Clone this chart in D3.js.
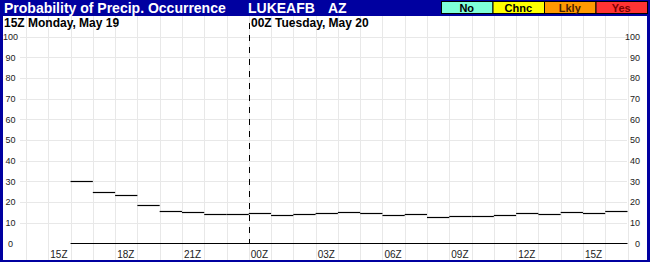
<!DOCTYPE html>
<html>
<head>
<meta charset="utf-8">
<script src="https://cdn.jsdelivr.net/npm/d3@7/dist/d3.min.js"></script>
<style>
  body { margin: 0; background: #fff; }
  svg { display: block; font-family: Arial, "Liberation Sans", sans-serif; }
</style>
</head>
<body>
<div id="chart"></div>
<script>
// hour columns shown on the chart, 14Z Mon .. 16Z Tue
const hourCols = ["14Z","15Z","16Z","17Z","18Z","19Z","20Z","21Z","22Z","23Z",
  "00Z","01Z","02Z","03Z","04Z","05Z","06Z","07Z","08Z","09Z","10Z","11Z","12Z","13Z","14Z","15Z","16Z"];
// probability of precip, one value per hour from 16Z Mon to 16Z Tue
const popHours = ["16Z","17Z","18Z","19Z","20Z","21Z","22Z","23Z",
  "00Z","01Z","02Z","03Z","04Z","05Z","06Z","07Z","08Z","09Z","10Z","11Z","12Z","13Z","14Z","15Z","16Z"];
const popValues = [30, 25, 23.2, 18.4, 15.8, 15.1, 14.4, 14.4,
  14.5, 13.7, 14.2, 14.5, 15, 14.5, 13.7, 14.2, 12.6, 13.2, 13.2, 13.9, 14.5, 14, 15, 14.5, 15.6];
const yTicks = [0, 10, 20, 30, 40, 50, 60, 70, 80, 90, 100];
const xTickLabels = ["15Z","18Z","21Z","00Z","03Z","06Z","09Z","12Z","15Z"];
const legendLabels = ["No", "Chnc", "Lkly", "Yes"];
const legendColors = ["#7fffd9", "#ffff00", "#ff9900", "#ff3333"];
const legendText = ["#000", "#000", "#4a2200", "#7a0000"];

const W = 650, H = 266;
const frameBlue = "#0000a0";

const svg = d3.select("#chart").append("svg")
  .attr("width", W).attr("height", H);

// frame + title bar
svg.append("rect").attr("x", 0).attr("y", 0).attr("width", W).attr("height", 262)
  .attr("fill", frameBlue);
svg.append("rect").attr("x", 3).attr("y", 16).attr("width", 644).attr("height", 244)
  .attr("fill", "#fff");

const x = d3.scaleLinear().domain([0, hourCols.length]).range([26, 627.5]);
const y = d3.scaleLinear().domain([0, 100]).range([243.3, 36.5]);

// grid
const grid = svg.append("g").attr("class", "grid");
grid.selectAll("line.v")
  .data(d3.range(hourCols.length + 1))
  .enter().append("line")
  .attr("class", "v")
  .attr("x1", d => Math.round(x(d)) + 0.5)
  .attr("x2", d => Math.round(x(d)) + 0.5)
  .attr("y1", 16).attr("y2", 260)
  .attr("stroke", "#e8e8e8");
grid.selectAll("line.h")
  .data(yTicks.filter(d => d > 0))
  .enter().append("line")
  .attr("class", "h")
  .attr("x1", 20).attr("x2", 627)
  .attr("y1", d => Math.round(y(d)) + 0.5)
  .attr("y2", d => Math.round(y(d)) + 0.5)
  .attr("stroke", "#e8e8e8");

// y labels both sides
const yLeft = svg.append("g").attr("transform", "translate(17,0)")
  .call(d3.axisLeft(y).tickValues(yTicks).tickSize(0).tickPadding(0));
const yRight = svg.append("g").attr("transform", "translate(627,0)")
  .call(d3.axisRight(y).tickValues(yTicks).tickSize(0).tickPadding(0));
[yLeft, yRight].forEach(g => {
  g.select(".domain").remove();
  g.selectAll("text").attr("font-size", 9).attr("fill", "#222")
    .attr("font-family", "Arial, 'Liberation Sans', sans-serif");
});
yLeft.selectAll("text").attr("text-anchor", "middle").attr("x", -6.5);
yRight.selectAll("text").attr("text-anchor", "end").attr("x", 13);

// x labels, centred in their hour column
const colIdx = d3.range(hourCols.length).filter(i => xTickLabels.includes(hourCols[i]) && i > 0);
const xAxis = svg.append("g").attr("transform", "translate(0,250.5)")
  .call(d3.axisBottom(x).tickValues(colIdx.map(i => i + 0.5))
    .tickFormat(v => hourCols[Math.floor(v)]).tickSize(0).tickPadding(0));
xAxis.select(".domain").remove();
xAxis.selectAll("text").attr("font-size", 10).attr("fill", "#222").attr("dx", -1)
  .attr("font-family", "Arial, 'Liberation Sans', sans-serif");

// day break
const dayIdx = hourCols.indexOf("00Z");
svg.append("line")
  .attr("x1", Math.round(x(dayIdx)) + 0.5).attr("x2", Math.round(x(dayIdx)) + 0.5)
  .attr("y1", 23).attr("y2", 243)
  .attr("stroke", "#000").attr("stroke-dasharray", "6,6");

// zero line + steps
const firstIdx = hourCols.indexOf(popHours[0]);
svg.append("line")
  .attr("x1", x(firstIdx)).attr("x2", x(firstIdx + popHours.length))
  .attr("y1", Math.round(y(0)) + 0.5).attr("y2", Math.round(y(0)) + 0.5)
  .attr("stroke", "#000").attr("stroke-width", 1.2);
svg.append("g").selectAll("line")
  .data(popValues)
  .enter().append("line")
  .attr("x1", (d, i) => x(firstIdx + i))
  .attr("x2", (d, i) => x(firstIdx + i + 1))
  .attr("y1", d => Math.round(y(d)) + 0.5)
  .attr("y2", d => Math.round(y(d)) + 0.5)
  .attr("stroke", "#000").attr("stroke-width", 1.2);

// date labels
svg.append("text").attr("x", 4).attr("y", 26.5)
  .attr("font-size", 12).attr("font-weight", "bold").text("15Z Monday, May 19");
svg.append("text").attr("x", 251).attr("y", 26.5)
  .attr("font-size", 12).attr("font-weight", "bold").text("00Z Tuesday, May 20");

// title bar text
svg.append("text").attr("x", 4).attr("y", 13)
  .attr("font-size", 14).attr("font-weight", "bold").attr("fill", "#fff")
  .text("Probability of Precip. Occurrence");
svg.append("text").attr("x", 248).attr("y", 13)
  .attr("font-size", 14).attr("font-weight", "bold").attr("fill", "#fff")
  .text("LUKEAFB");
svg.append("text").attr("x", 328).attr("y", 13)
  .attr("font-size", 14).attr("font-weight", "bold").attr("fill", "#fff")
  .text("AZ");

// legend boxes
const lx = d3.scaleBand().domain(legendLabels).range([441, 647]).paddingInner(0);
const lg = svg.append("g").selectAll("g")
  .data(legendLabels)
  .enter().append("g");
lg.append("rect")
  .attr("x", d => lx(d) + 0.5).attr("y", 1.5)
  .attr("width", lx.bandwidth()).attr("height", 12)
  .attr("fill", (d, i) => legendColors[i])
  .attr("stroke", "#000");
lg.append("text")
  .attr("x", d => lx(d) + lx.bandwidth() / 2).attr("y", 12)
  .attr("text-anchor", "middle").attr("font-size", 11).attr("font-weight", "bold")
  .attr("fill", (d, i) => legendText[i])
  .text(d => d);
</script>
</body>
</html>
